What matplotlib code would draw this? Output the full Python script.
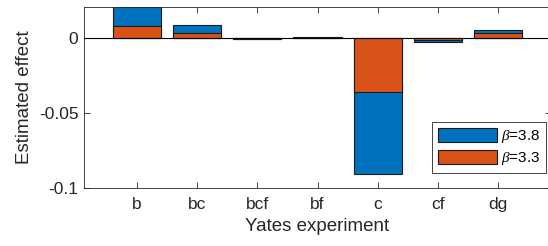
import matplotlib
matplotlib.use("Agg")
import matplotlib.pyplot as plt
import numpy as np

categories = ["b", "bc", "bcf", "bf", "c", "cf", "dg"]
beta38 = [0.025, 0.0087, -0.0005, 0.0005, -0.0911, -0.0027, 0.0058]
beta33 = [0.0080, 0.0032, -0.0003, 0.0003, -0.0359, -0.0012, 0.0034]
labels = [r"$\beta$=3.8", r"$\beta$=3.3"]
yticks = [-0.1, -0.05, 0]
yticklabels = ["-0.1", "-0.05", "0"]

plt.rcParams['font.family'] = ['Liberation Sans', 'DejaVu Sans']
plt.rcParams['mathtext.fontset'] = 'custom'
plt.rcParams['mathtext.it'] = 'Liberation Serif:italic'

fig = plt.figure(figsize=(5.48, 2.46), dpi=100)
ax = fig.add_axes([84/548, 1-187.7/246, (551-84)/548, (187.7-7.3)/246])

x = np.arange(1, len(categories)+1)
axc = '#262626'
ax.bar(x, beta38, width=0.8, color='#0072BD', edgecolor='#1a1a1a', linewidth=0.8, label=labels[0], zorder=2)
ax.bar(x, beta33, width=0.8, color='#D95319', edgecolor='#1a1a1a', linewidth=0.8, label=labels[1], zorder=3)
ax.axhline(0, color='black', linewidth=0.8, zorder=4)

ax.set_xlim(0.117, 7.883)
ax.set_ylim(-0.1, 0.0207)
ax.set_xticks(x)
ax.set_xticklabels(categories)
ax.set_yticks(yticks)
ax.set_yticklabels(yticklabels)
ax.tick_params(direction='in', length=4, width=0.6, colors=axc, labelsize=12.5, top=True, right=True)
ax.tick_params(axis='y', pad=4)
ax.tick_params(axis='x', pad=7)
for s in ax.spines.values():
    s.set_color(axc)
    s.set_linewidth(0.6)
ax.set_xlabel("Yates experiment", fontsize=13.5, color=axc, labelpad=4)
ax.set_ylabel("Estimated effect", fontsize=13.5, color=axc, labelpad=4)

leg = ax.legend(loc='upper left', bbox_to_anchor=(432/548, 1-122/246), bbox_transform=fig.transFigure,
                borderaxespad=0, fontsize=11, handlelength=3.86, handleheight=1.0, handletextpad=0.26,
                labelspacing=0.33, borderpad=0.4, fancybox=False, framealpha=1, edgecolor=axc)
leg.get_frame().set_linewidth(0.6)

fig.savefig("out.png", dpi=100)
